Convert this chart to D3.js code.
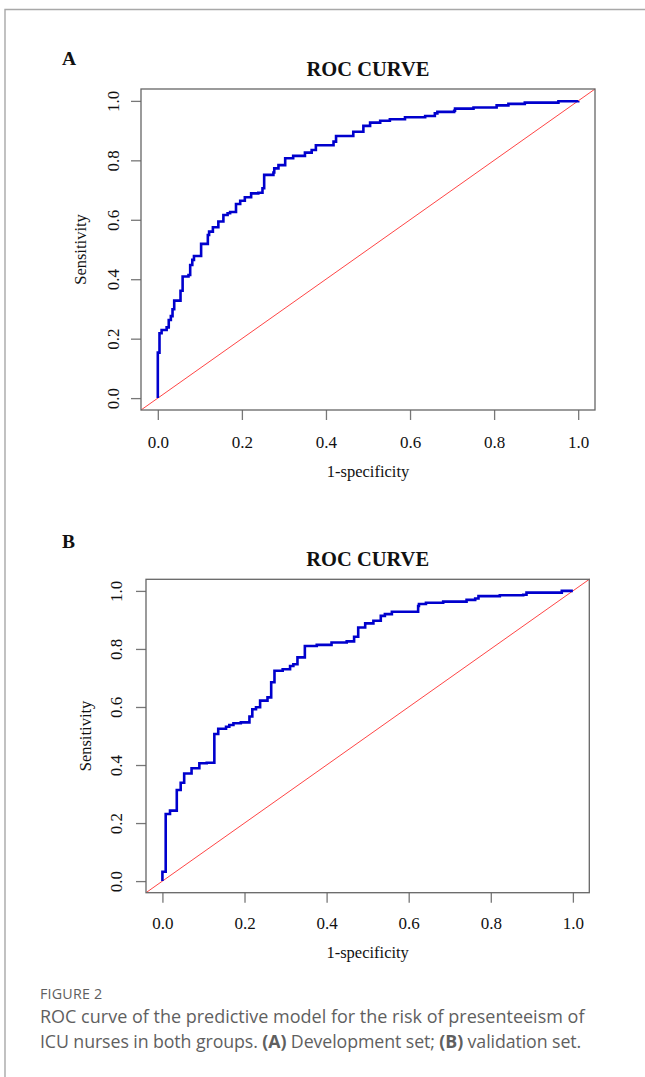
<!DOCTYPE html>
<html>
<head>
<meta charset="utf-8">
<script src="https://cdn.jsdelivr.net/npm/d3@7"></script>
<style>
    body { margin: 0; background: #fff; }
    .box { fill: none; stroke: #666; stroke-width: 1.3; }
    .axis path, .axis line { stroke: #777; stroke-width: 1.3; }
    .label { font-family: "Liberation Serif", "Times New Roman", serif; fill: #111; }
    .caption { font-family: "Open Sans", sans-serif; fill: #5f5f5f; }
</style>
</head>
<body>
<div class="figure"></div>
<script>

//////////
// DATA //
//////////

// development set (panel A), 1-specificity vs sensitivity
var fprA = [0, 0, 0.004, 0.009, 0.021, 0.026, 0.031, 0.035, 0.039, 0.054, 0.059, 0.073, 0.077, 0.082,
    0.086, 0.103, 0.119, 0.122, 0.131, 0.144, 0.156, 0.166, 0.172, 0.186, 0.196, 0.207, 0.222, 0.239,
    0.249, 0.253, 0.275, 0.277, 0.287, 0.303, 0.322, 0.350, 0.366, 0.376, 0.418, 0.424, 0.465, 0.489,
    0.505, 0.529, 0.552, 0.588, 0.636, 0.659, 0.665, 0.705, 0.707, 0.751, 0.806, 0.834, 0.873, 0.953, 1.0];
var tprA = [0, 0.153, 0.218, 0.229, 0.238, 0.263, 0.276, 0.299, 0.328, 0.361, 0.409, 0.414, 0.448, 0.465,
    0.478, 0.519, 0.549, 0.560, 0.575, 0.594, 0.616, 0.622, 0.626, 0.653, 0.664, 0.676, 0.689, 0.691,
    0.706, 0.751, 0.759, 0.773, 0.784, 0.807, 0.815, 0.826, 0.835, 0.851, 0.863, 0.882, 0.896, 0.916,
    0.927, 0.933, 0.938, 0.945, 0.949, 0.958, 0.963, 0.967, 0.974, 0.978, 0.985, 0.990, 0.994, 0.999, 1.0];

// validation set (panel B)
var fprB = [0, 0, 0.008, 0.0185, 0.035, 0.0445, 0.053, 0.071, 0.090, 0.108, 0.1265, 0.136, 0.155, 0.163,
    0.173, 0.191, 0.212, 0.219, 0.228, 0.238, 0.256, 0.265, 0.273, 0.293, 0.311, 0.319, 0.329, 0.347,
    0.376, 0.412, 0.449, 0.467, 0.477, 0.494, 0.514, 0.532, 0.542, 0.559, 0.623, 0.625, 0.642, 0.684,
    0.741, 0.762, 0.770, 0.822, 0.879, 0.887, 0.973, 1.0];
var tprB = [0, 0.032, 0.231, 0.243, 0.314, 0.339, 0.371, 0.389, 0.406, 0.408, 0.507, 0.525, 0.532, 0.538,
    0.544, 0.547, 0.567, 0.592, 0.599, 0.622, 0.633, 0.685, 0.725, 0.730, 0.741, 0.747, 0.771, 0.810,
    0.814, 0.822, 0.826, 0.842, 0.874, 0.888, 0.897, 0.914, 0.920, 0.928, 0.948, 0.955, 0.959, 0.963,
    0.969, 0.974, 0.982, 0.985, 0.987, 0.994, 1.0, 1.0];

var tickValues = [0, 0.2, 0.4, 0.6, 0.8, 1.0];
var panelLetters = ['A', 'B'];
var chartTitle = 'ROC CURVE';
var xTitle = '1-specificity';
var yTitle = 'Sensitivity';
var captionHead = 'FIGURE 2';

//////////////////
// CREATING SVG //
//////////////////

var W = 645, H = 1077;

var svg = d3.select('.figure')
    .append('svg')
    .attr('width', W)
    .attr('height', H);

// page frame (top and left rules)
svg.append('path')
    .attr('d', 'M5,1077V9.5H645')
    .attr('fill', 'none')
    .attr('stroke', '#a8a8a8')
    .attr('stroke-width', 1.4);

/////////////////////
// PANEL FUNCTION //
/////////////////////

function styleTicks(sel) {
    sel.style('font-family', '"Liberation Serif", "Times New Roman", serif')
        .style('font-size', '17px')
        .style('fill', '#111');
}

function drawRoc(p) {

    var g = svg.append('g');

    // R pads the data range by 4% on each side
    var xScale = d3.scaleLinear()
        .domain([-0.04, 1.04])
        .range([p.left, p.right]);

    var yScale = d3.scaleLinear()
        .domain([-0.04, 1.04])
        .range([p.bottom, p.top]);

    // axes
    var xAxis = d3.axisBottom(xScale)
        .tickValues(tickValues)
        .tickSize(10)
        .tickSizeOuter(0)
        .tickFormat(d3.format('.1f'));

    var xg = g.append('g')
        .attr('class', 'axis')
        .attr('transform', 'translate(0,' + p.bottom + ')')
        .call(xAxis);
    xg.select('.domain').remove();
    xg.selectAll('text')
        .attr('y', p.xTickGap)
        .attr('dy', 0)
        .call(styleTicks);

    var yAxis = d3.axisLeft(yScale)
        .tickValues(tickValues)
        .tickSize(10)
        .tickSizeOuter(0)
        .tickFormat(d3.format('.1f'));

    var yg = g.append('g')
        .attr('class', 'axis')
        .attr('transform', 'translate(' + p.left + ',0)')
        .call(yAxis);
    yg.select('.domain').remove();
    yg.selectAll('text')
        .attr('transform', 'rotate(-90)')
        .attr('text-anchor', 'middle')
        .attr('x', 0)
        .attr('y', -p.yTickGap)
        .attr('dy', 0)
        .call(styleTicks);

    // diagonal reference line
    var dom = xScale.domain();
    g.append('line')
        .attr('x1', xScale(dom[0]))
        .attr('y1', yScale(dom[0]))
        .attr('x2', xScale(dom[1]))
        .attr('y2', yScale(dom[1]))
        .attr('stroke', '#ff3030')
        .attr('stroke-width', 0.9);

    // roc curve
    var pts = p.fpr.map(function(d, i) { return [d, p.tpr[i]]; });
    var line = d3.line()
        .x(function(d) { return xScale(d[0]); })
        .y(function(d) { return yScale(d[1]); })
        .curve(d3.curveStepAfter);

    g.append('path')
        .datum(pts)
        .attr('d', line)
        .attr('fill', 'none')
        .attr('stroke', '#0000cd')
        .attr('stroke-width', 2.6)
        .attr('stroke-linejoin', 'miter');

    // plot box
    g.append('rect')
        .attr('class', 'box')
        .attr('x', p.left)
        .attr('y', p.top)
        .attr('width', p.right - p.left)
        .attr('height', p.bottom - p.top);

    // texts
    var cx = (p.left + p.right) / 2,
        cy = (p.top + p.bottom) / 2;

    g.append('text')
        .attr('class', 'label')
        .attr('x', cx)
        .attr('y', p.top - 13)
        .attr('text-anchor', 'middle')
        .style('font-size', '20.5px')
        .style('font-weight', 'bold')
        .text(chartTitle);

    g.append('text')
        .attr('class', 'label')
        .attr('x', cx)
        .attr('y', p.bottom + p.xTitleGap)
        .attr('text-anchor', 'middle')
        .style('font-size', '16.5px')
        .text(xTitle);

    g.append('text')
        .attr('class', 'label')
        .attr('transform', 'translate(' + (p.left - 55) + ',' + cy + ') rotate(-90)')
        .attr('text-anchor', 'middle')
        .style('font-size', '16.5px')
        .text(yTitle);

    g.append('text')
        .attr('class', 'label')
        .attr('x', 62)
        .attr('y', p.letterY)
        .style('font-size', '19.5px')
        .style('font-weight', 'bold')
        .text(p.letter);
}

////////////////////
// DRAWING PANELS //
////////////////////

drawRoc({
    fpr: fprA, tpr: tprA, letter: panelLetters[0],
    left: 141, right: 595, top: 89, bottom: 410,
    xTickGap: 38, xTitleGap: 67, yTickGap: 22.5, letterY: 65
});

drawRoc({
    fpr: fprB, tpr: tprB, letter: panelLetters[1],
    left: 146, right: 589.3, top: 579.3, bottom: 892.7,
    xTickGap: 36.5, xTitleGap: 65, yTickGap: 24.5, letterY: 548
});

/////////////
// CAPTION //
/////////////

svg.append('text')
    .attr('class', 'caption')
    .attr('x', 40)
    .attr('y', 999)
    .style('font-size', '14.3px')
    .style('letter-spacing', '0.2px')
    .text(captionHead);

var cap1 = svg.append('text')
    .attr('class', 'caption')
    .attr('x', 40)
    .attr('y', 1023)
    .style('font-size', '18px')
    .text('ROC curve of the predictive model for the risk of presenteeism of');

var cap2 = svg.append('text')
    .attr('class', 'caption')
    .attr('x', 40)
    .attr('y', 1048)
    .style('font-size', '17.8px')
    .style('letter-spacing', '-0.1px');

cap2.append('tspan').text('ICU nurses in both groups. ');
cap2.append('tspan').style('font-weight', 'bold').text('(A)');
cap2.append('tspan').text(' Development set; ');
cap2.append('tspan').style('font-weight', 'bold').text('(B)');
cap2.append('tspan').text(' validation set.');

</script>
</body>
</html>
